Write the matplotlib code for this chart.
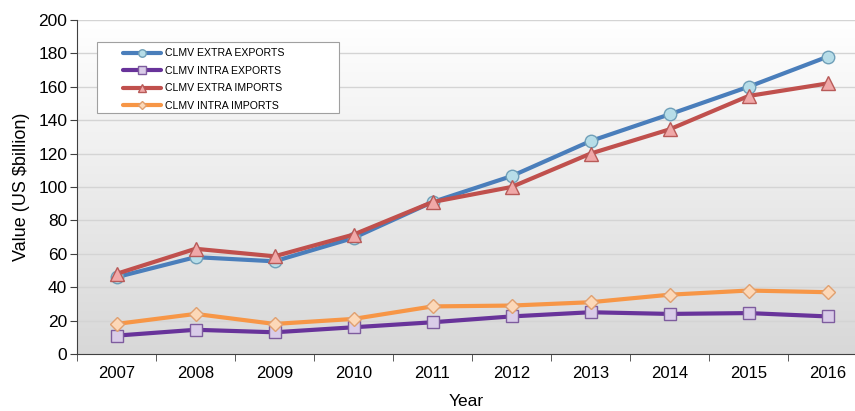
import matplotlib
matplotlib.use("Agg")
import matplotlib.pyplot as plt
import numpy as np
from matplotlib.colors import LinearSegmentedColormap
from matplotlib.patches import Rectangle

plt.rcParams['font.family'] = ['Liberation Sans', 'DejaVu Sans']

years = ['2007', '2008', '2009', '2010', '2011', '2012', '2013', '2014', '2015', '2016']
extra_exports = [46, 58, 55.5, 69.5, 91, 106.5, 127.5, 143.5, 160, 178]
intra_exports = [11, 14.5, 13, 16, 19, 22.5, 25, 24, 24.5, 22.5]
extra_imports = [48, 63, 58.5, 71.5, 91, 100, 120, 134.5, 154.5, 162]
intra_imports = [18, 24, 18, 21, 28.5, 29, 31, 35.5, 38, 37]
series_names = ['CLMV EXTRA EXPORTS', 'CLMV INTRA EXPORTS', 'CLMV EXTRA IMPORTS', 'CLMV INTRA IMPORTS']

W, H = 855, 411
fig = plt.figure(figsize=(W/100, H/100), dpi=100)
left, right, top, bottom = 77, 855, 20, 354
ax = fig.add_axes([left/W, 1-bottom/H, (right-left)/W, (bottom-top)/H])

# gradient background: white at top, light gray at bottom
grad = np.linspace(1, 0, 256).reshape(-1, 1)
cmap = LinearSegmentedColormap.from_list('bg', ['#ffffff', '#d8d8d8'])
x = np.arange(len(years))
cat_w = 79.0
xmax = -0.5 + (right-left)/cat_w
ax.imshow(grad, aspect='auto', cmap=cmap, extent=[-0.5, xmax, 0, 200], zorder=0, origin='lower',
          vmin=0, vmax=1)
ax.set_xlim(-0.5, xmax)
ax.set_ylim(0, 200)

for v in range(20, 201, 20):
    ax.axhline(v, color='#d4d4d4', lw=1.0, zorder=1)

styles = [
    (extra_exports, '#4a7ebb', 'o', '#b7dde8', '#6f9fb8', 9),
    (intra_exports, '#68339a', 's', '#d9cce8', '#7e5c9e', 8.5),
    (extra_imports, '#c0504d', '^', '#f0a8a8', '#b85a58', 10),
    (intra_imports, '#f79646', 'D', '#fcd8b8', '#e0a070', 7.5),
]
handles = []
for (vals, col, mk, mfc, mec, ms), name in zip(styles, series_names):
    h, = ax.plot(x, vals, color=col, lw=3, marker=mk, ms=ms, mfc=mfc, mec=mec, mew=1.0,
                 label=name, zorder=3, solid_capstyle='round')
    handles.append(h)

ax.set_xticks(x)
ax.set_xticklabels(years, fontsize=12)
ax.set_xticks(np.arange(-0.5, xmax, 1), minor=True)
ax.tick_params(axis='x', which='major', length=0, pad=9)
ax.tick_params(axis='x', which='minor', length=5, color='#404040', direction='out')
ax.set_yticks(range(0, 201, 20))
ax.tick_params(axis='y', labelsize=12.5, length=5, color='#404040', direction='out', pad=2)

for s in ['top', 'right']:
    ax.spines[s].set_visible(False)
ax.spines['left'].set_color('#404040')
ax.spines['bottom'].set_color('#404040')

ax.set_ylabel('Value (US $billion)', fontsize=13, labelpad=6)
ax.set_xlabel('Year', fontsize=12.5, labelpad=9)

# legend frame
lx0, ly0, lx1, ly1 = 97, 42, 339, 113
frame = Rectangle((lx0/W, 1-ly1/H), (lx1-lx0)/W, (ly1-ly0)/H, transform=fig.transFigure,
                  facecolor='white', edgecolor='#a0a0a0', lw=0.8, zorder=4, clip_on=False)
ax.add_patch(frame)
leg = ax.legend(handles=handles, loc='upper left',
                bbox_to_anchor=((119-left)/(right-left), 1-(44-top)/(bottom-top)),
                fontsize=7.6, frameon=False,
                handlelength=3.6, borderaxespad=0, borderpad=0.4, labelspacing=0.72, handletextpad=0.4,
                markerscale=0.6)
leg.set_zorder(5)

fig.savefig('out.png', dpi=100)
